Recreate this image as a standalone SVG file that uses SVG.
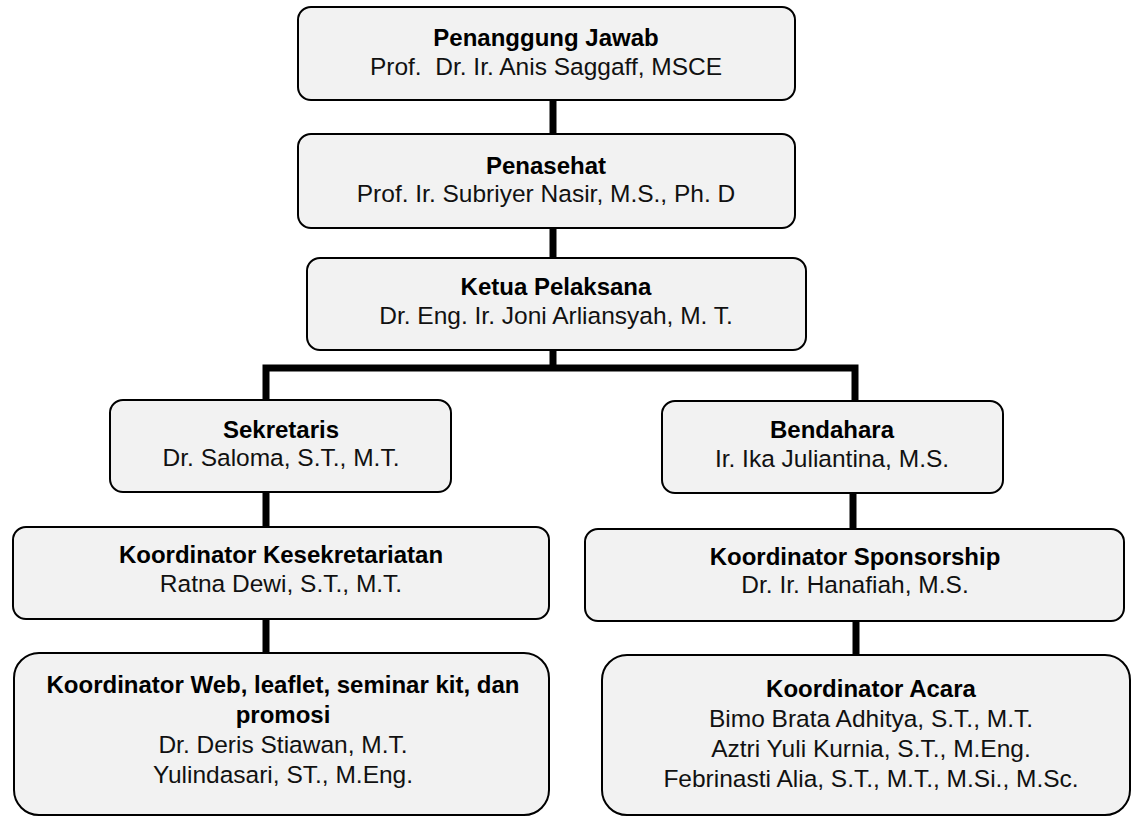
<svg xmlns="http://www.w3.org/2000/svg" width="1132" height="818" viewBox="0 0 1132 818">
<style>
.box{fill:#f2f2f2;stroke:#000;stroke-width:2}
.t{font-family:"Liberation Sans",Arial,sans-serif;font-size:24.5px;fill:#111;text-anchor:middle}
.b{font-weight:bold;font-size:24px;fill:#000}
.c{stroke:#000;stroke-width:7;fill:none}
</style>
<rect width="1132" height="818" fill="#fff"/>
<g id="connectors">
<line class="c" x1="553" y1="100" x2="553" y2="134"/>
<line class="c" x1="553" y1="228" x2="553" y2="258"/>
<line class="c" x1="553" y1="350" x2="553" y2="368"/>
<polyline class="c" points="266,400 266,368 855,368 855,401"/>
<line class="c" x1="266" y1="492" x2="266" y2="527"/>
<line class="c" x1="853" y1="493" x2="853" y2="529"/>
<line class="c" x1="266" y1="619" x2="266" y2="653"/>
<line class="c" x1="856" y1="621" x2="856" y2="655"/>
</g>
<g id="penanggung">
<rect class="box" x="298" y="7" width="497" height="93" rx="13"/>
<text class="t b" x="546" y="46">Penanggung Jawab</text>
<text class="t" x="546" y="75" xml:space="preserve">Prof.  Dr. Ir. Anis Saggaff, MSCE</text>
</g>
<g id="penasehat">
<rect class="box" x="298" y="134" width="497" height="94" rx="13"/>
<text class="t b" x="546" y="174">Penasehat</text>
<text class="t" x="546" y="202">Prof. Ir. Subriyer Nasir, M.S., Ph. D</text>
</g>
<g id="ketua">
<rect class="box" x="307" y="258" width="499" height="92" rx="13"/>
<text class="t b" x="556" y="295">Ketua Pelaksana</text>
<text class="t" x="556" y="324">Dr. Eng. Ir. Joni Arliansyah, M. T.</text>
</g>
<g id="sekretaris">
<rect class="box" x="110" y="400" width="341" height="92" rx="13"/>
<text class="t b" x="281" y="438">Sekretaris</text>
<text class="t" x="281" y="466">Dr. Saloma, S.T., M.T.</text>
</g>
<g id="bendahara">
<rect class="box" x="662" y="401" width="341" height="92" rx="13"/>
<text class="t b" x="832" y="438">Bendahara</text>
<text class="t" x="832" y="467">Ir. Ika Juliantina, M.S.</text>
</g>
<g id="kesekretariatan">
<rect class="box" x="13" y="527" width="536" height="92" rx="13"/>
<text class="t b" x="281" y="563">Koordinator Kesekretariatan</text>
<text class="t" x="281" y="592">Ratna Dewi, S.T., M.T.</text>
</g>
<g id="sponsorship">
<rect class="box" x="585" y="529" width="539" height="92" rx="13"/>
<text class="t b" x="855" y="565">Koordinator Sponsorship</text>
<text class="t" x="855" y="593">Dr. Ir. Hanafiah, M.S.</text>
</g>
<g id="web">
<rect class="box" x="14" y="653" width="535" height="162" rx="25"/>
<text class="t b" x="283" y="693">Koordinator Web, leaflet, seminar kit, dan</text>
<text class="t b" x="283" y="723">promosi</text>
<text class="t" x="283" y="753">Dr. Deris Stiawan, M.T.</text>
<text class="t" x="283" y="783">Yulindasari, ST., M.Eng.</text>
</g>
<g id="acara">
<rect class="box" x="602" y="655" width="528" height="160" rx="25"/>
<text class="t b" x="871" y="697">Koordinator Acara</text>
<text class="t" x="871" y="727">Bimo Brata Adhitya, S.T., M.T.</text>
<text class="t" x="871" y="757">Aztri Yuli Kurnia, S.T., M.Eng.</text>
<text class="t" x="871" y="787">Febrinasti Alia, S.T., M.T., M.Si., M.Sc.</text>
</g>
</svg>
